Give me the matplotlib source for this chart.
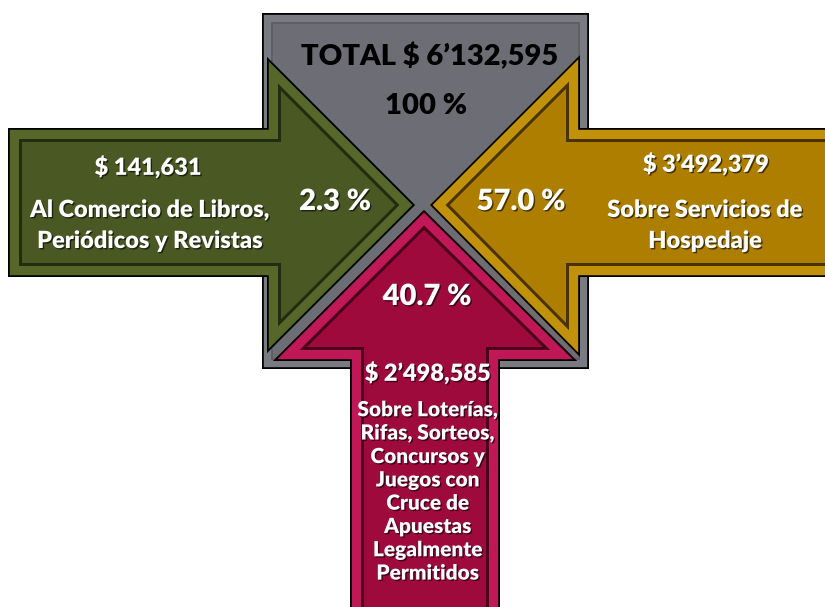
import matplotlib
matplotlib.use("Agg")
import matplotlib.pyplot as plt
from matplotlib.path import Path
from matplotlib.patches import PathPatch
import matplotlib.patheffects as pe

# ── Data ─────────────────────────────────────────────────────────────────────
total_amount = "TOTAL $ 6’132,595"
total_pct = "100 %"
amounts = ["$ 141,631", "$ 3’492,379", "$ 2’498,585"]
percents = ["2.3 %", "57.0 %", "40.7 %"]
labels = [
    ["Al Comercio de Libros,", "Periódicos y Revistas"],
    ["Sobre Servicios de", "Hospedaje"],
    ["Sobre Loterías,", "Rifas, Sorteos,", "Concursos y", "Juegos con",
     "Cruce de", "Apuestas", "Legalmente", "Permitidos"],
]

W, H = 825, 607
PX = 72 / 100  # points per pixel at dpi 100
FONT = "Lato"

fig = plt.figure(figsize=(W / 100, H / 100), dpi=100)
ax = fig.add_axes([0, 0, 1, 1])
ax.set_xlim(0, W)
ax.set_ylim(H, 0)
ax.axis("off")


def bevel(pts, fill, band, line, bw=11, lw=3):
    path = Path(pts + [pts[0]], closed=True)
    face = PathPatch(path, facecolor=fill, edgecolor="none")
    ax.add_patch(face)
    for w, c in [(bw + lw, line), (bw, band), (1.8, "black")]:
        p = PathPatch(path, facecolor="none", edgecolor=c,
                      linewidth=2 * w * PX, joinstyle="miter")
        ax.add_patch(p)
        p.set_clip_path(face)


# gray square
bevel([(262, 13), (589, 13), (589, 369), (262, 369)],
      "#6d6d75", "#7a7a82", "#5e5e66", bw=9, lw=2)

# green arrow (pointing right)
bevel([(8, 128), (267, 128), (267, 57), (415, 205), (267, 353),
       (267, 277), (8, 277)],
      "#4a5923", "#566729", "#232b10")

# gold arrow (pointing left)
bevel([(840, 128), (580, 128), (580, 55), (430, 205), (580, 357),
       (580, 277), (840, 277)],
      "#ae7e00", "#c2910a", "#4a3300")

# crimson arrow (pointing up)
bevel([(350, 630), (350, 361), (273, 361), (424, 210), (577, 361),
       (500, 361), (500, 630)],
      "#9f0a3c", "#c01856", "#4a0019")

shadow = [pe.withSimplePatchShadow(offset=(1, -1), shadow_rgbFace="black", alpha=0.6)]


def txt(x, y, s, size, color="white"):
    ax.text(x, y, s, ha="center", va="center", fontsize=size, color=color,
            fontfamily=FONT, fontweight="heavy",
            path_effects=shadow if color == "white" else None)


# total
txt(430, 56, total_amount, 21, "black")
txt(426, 106, total_pct, 21, "black")

# green
txt(148, 167, amounts[0], 17)
for i, s in enumerate(labels[0]):
    txt(150, 210 + 31 * i, s, 17)
txt(335, 202, percents[0], 21)

# gold
txt(706, 164, amounts[1], 17)
for i, s in enumerate(labels[1]):
    txt(705, 210 + 31 * i, s, 17)
txt(521, 202, percents[1], 21)

# crimson
txt(427, 297, percents[2], 21)
txt(428, 373, amounts[2], 17)
for i, s in enumerate(labels[2]):
    txt(428, 410 + 23.3 * i, s, 15)

fig.savefig("out.png", dpi=100)
